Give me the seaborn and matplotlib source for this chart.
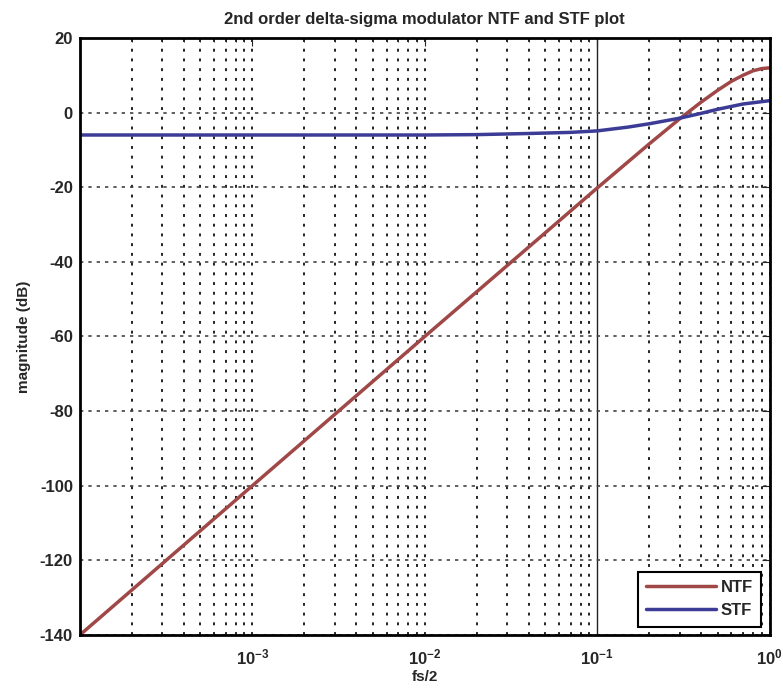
import numpy as np
import pandas as pd
import seaborn as sns
import matplotlib.pyplot as plt
from matplotlib.ticker import LogLocator, NullFormatter

# values (x in units of fs/2, y in dB)
ntf_freq = [1e-4, 1e-3, 1e-2, 0.05, 0.1, 0.15, 0.2, 0.3, 0.4, 0.5, 0.6, 0.7, 0.8, 0.9, 1.0]
ntf_mag = [-140, -100, -60, -32.2, -20.2, -13.3, -8.4, -1.7, 2.8, 6.0, 8.4, 10.0, 11.2, 11.8, 12.0]

stf_freq = [1e-4, 1e-3, 1e-2, 0.02, 0.04, 0.07, 0.1, 0.15, 0.2, 0.3, 0.4, 0.5, 0.7, 1.0]
stf_mag = [-6.0, -6.0, -6.0, -5.9, -5.6, -5.3, -4.9, -3.9, -3.0, -1.5, -0.2, 0.9, 2.3, 3.2]

x_ticks = [1e-3, 1e-2, 1e-1, 1e0]
x_tick_labels = [r"$10^{-3}$", r"$10^{-2}$", r"$10^{-1}$", r"$10^{0}$"]
y_ticks = list(range(-140, 21, 20))

df = pd.concat([
    pd.DataFrame({"freq": ntf_freq, "mag": ntf_mag, "curve": "NTF"}),
    pd.DataFrame({"freq": stf_freq, "mag": stf_mag, "curve": "STF"}),
])

sns.set_style("white")
plt.rcParams["font.family"] = ["Liberation Sans", "DejaVu Sans"]
plt.rcParams["font.weight"] = "bold"
plt.rcParams["mathtext.fontset"] = "custom"
plt.rcParams["mathtext.bf"] = "Liberation Sans:bold"
plt.rcParams["mathtext.rm"] = "Liberation Sans:bold"
plt.rcParams["mathtext.default"] = "bf"

fig = plt.figure(figsize=(7.83, 6.93), dpi=100)
ax = fig.add_axes([0.102, 0.0837, 0.881, 0.8615])

sns.lineplot(data=df, x="freq", y="mag", hue="curve",
             palette={"NTF": "#a04848", "STF": "#3c3c96"},
             linewidth=2.5, ax=ax, sort=False)

ax.set_xscale("log")
ax.set_xlim(1e-4, 1)
ax.set_ylim(-140, 20)
ax.set_xticks(x_ticks)
ax.set_xticklabels(x_tick_labels, fontsize=12, fontweight="bold")
ax.xaxis.set_minor_locator(LogLocator(base=10, subs=np.arange(2, 10)))
ax.xaxis.set_minor_formatter(NullFormatter())
ax.set_yticks(y_ticks)
ax.set_yticklabels([str(v) for v in y_ticks], fontsize=12, fontweight="bold")

ax.grid(True, which="major", axis="y", linestyle=(0, (2, 3)), color="#444444", linewidth=1.2)
ax.grid(True, which="both", axis="x", linestyle=(0, (1.5, 3.5)), color="#222222", linewidth=1.4)
# the 10^-1 line shows up solid in the reference
for tick in ax.xaxis.get_major_ticks():
    if np.isclose(tick.get_loc(), 0.1):
        tick.gridline.set_linestyle("-")
        tick.gridline.set_linewidth(1.0)

ax.tick_params(which="both", direction="in", top=True, right=True)
ax.tick_params(which="major", length=6)
ax.tick_params(which="minor", length=3)
ax.tick_params(axis="x", which="major", pad=9)
ax.tick_params(axis="y", which="major", pad=5)
for spine in ax.spines.values():
    spine.set_color("black")
    spine.set_linewidth(2)

ax.set_title("2nd order delta-sigma modulator NTF and STF plot",
             fontsize=12, fontweight="bold", pad=10)
ax.set_xlabel("fs/2", fontsize=11, fontweight="bold", labelpad=2)
ax.set_ylabel("magnitude (dB)", fontsize=11, fontweight="bold", labelpad=6)

leg = ax.legend(loc="lower right", fontsize=12, frameon=True, fancybox=False,
                framealpha=1, edgecolor="black", handlelength=4.2,
                borderaxespad=0.5, handletextpad=0.3, borderpad=0.5)
leg.get_frame().set_linewidth(1.5)
leg.set_title(None)

fig.savefig("out.png", dpi=100)
